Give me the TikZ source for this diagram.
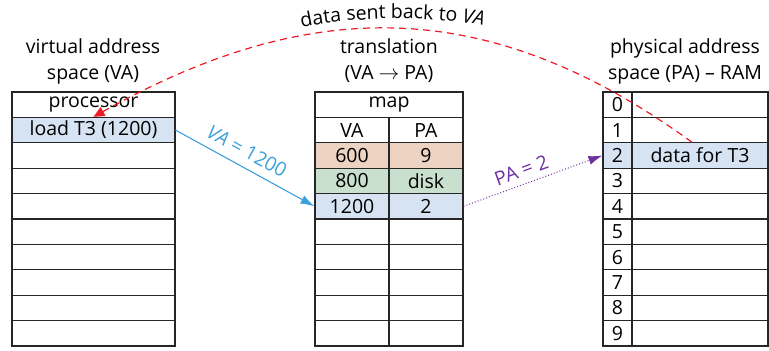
\documentclass[tikz,border=0pt]{standalone}
\usepackage{fontspec}
\setmainfont{Open Sans}
\usetikzlibrary{calc,arrows.meta,decorations.text}
\definecolor{rowblue}{RGB}{214,227,243}
\definecolor{roworange}{RGB}{236,211,194}
\definecolor{rowgreen}{RGB}{201,224,206}
\definecolor{vablue}{RGB}{60,160,220}
\definecolor{papurple}{RGB}{112,48,160}
\definecolor{backred}{RGB}{237,28,36}

\begin{document}
\begin{tikzpicture}[x=1pt,y=-1pt,line width=1.1pt,font=\fontsize{19.5}{26}\selectfont,
  cell/.style={draw=black!85,minimum height=25.4pt,inner sep=0pt}]
  \useasboundingbox (0,0) rectangle (769,351);
  % titles
  \node[align=center] (vatitle) at (93,61) {virtual address\\space (VA)};
  \node[align=center] (maptitle) at (389,61) {translation\\(VA $\rightarrow$ PA)};
  \node[align=center] (patitle) at (685,61) {physical address\\space (PA) -- RAM};
  % virtual address space
  \node[cell,minimum width=163pt] (v0) at (93.5,104.7) {processor};
  \node[cell,minimum width=163pt,fill=rowblue] (v1) at (93.5,130.1) {load T3 (1200)};
  \foreach \i in {2,...,9}
    \node[cell,minimum width=163pt] (v\i) at (93.5,{104.7+25.4*\i}) {};
  % translation map
  \node[cell,minimum width=148pt] (m0) at (389,104.7) {map};
  \foreach \i/\a/\b/\c in {1/VA/PA/white,2/600/9/roworange,3/800/disk/rowgreen,4/1200/2/rowblue}{
    \node[cell,minimum width=74pt,fill=\c] (mva\i) at (352,{104.7+25.4*\i}) {\a};
    \node[cell,minimum width=74pt,fill=\c] (mpa\i) at (426,{104.7+25.4*\i}) {\b};
  }
  \foreach \i in {5,...,9}{
    \node[cell,minimum width=74pt] (mva\i) at (352,{104.7+25.4*\i}) {};
    \node[cell,minimum width=74pt] (mpa\i) at (426,{104.7+25.4*\i}) {};
  }
  % physical address space
  \foreach \i in {0,1,3,4,5,6,7,8,9}{
    \node[cell,minimum width=29pt] (pn\i) at (617.5,{104.7+25.4*\i}) {\i};
    \node[cell,minimum width=136pt] (pd\i) at (700,{104.7+25.4*\i}) {};
  }
  \node[cell,minimum width=29pt,fill=rowblue] (pn2) at (617.5,155.5) {2};
  \node[cell,minimum width=136pt,fill=rowblue] (pd2) at (700,155.5) {data for T3};
  % VA -> map -> PA
  \draw[vablue,-{Latex[length=14pt,width=9pt]}] (v1.east) -- node[sloped,above=5pt,pos=0.46]{\textit{VA} = 1200} (mva4.west);
  \draw[papurple,line width=1pt,dotted,-{Latex[length=14pt,width=9pt]}] (mpa4.east) -- node[sloped,above=3pt,pos=0.45]{PA = 2} (pn2.west);
  % data back to the processor
  \draw[backred,line width=1.2pt,dash pattern=on 7pt off 5pt,-{Triangle[length=11pt,width=10pt]}]
    ($(pd2.north)+(-8,0)$) .. controls (489.5,-4.5) and (311.5,-5) .. (v1.north);
  \path[decorate,decoration={text along path,text align=center,
    text={|\fontsize{19.5}{26}\selectfont|data sent back to |\fontsize{19.5}{26}\selectfont\itshape|VA}}]
    (288,31) .. controls (340,15) and (445,15) .. (497,29);
\end{tikzpicture}
\end{document}
